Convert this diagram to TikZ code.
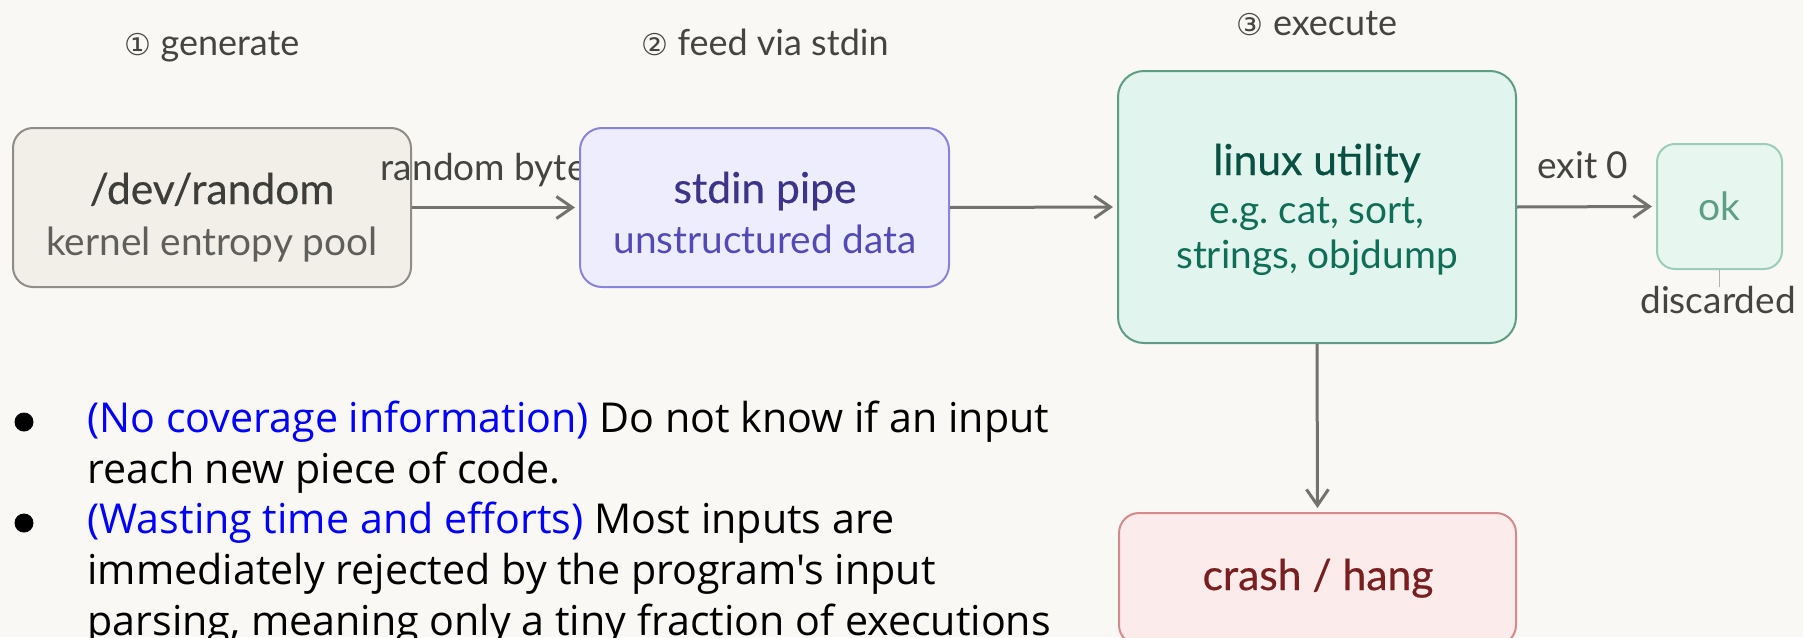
\documentclass[tikz,border=0pt]{standalone}
\usepackage{fontspec}
\setmainfont{Lato}
\newfontfamily\medfont{Lato}[FakeBold=0.5]
\newfontfamily\bodyfont{Open Sans}
\newfontfamily\symfont{DejaVu Sans}
\usetikzlibrary{arrows.meta}
\frenchspacing
\definecolor{bg}{HTML}{F9F8F5}
\definecolor{arrowc}{HTML}{73726C}
\definecolor{grayfill}{HTML}{F1EFE8}
\definecolor{grayline}{HTML}{8F8D86}
\definecolor{graytitle}{HTML}{3D3D3A}
\definecolor{graysub}{HTML}{5F5E5A}
\definecolor{purfill}{HTML}{EEEDFE}
\definecolor{purline}{HTML}{8A83DB}
\definecolor{purtitle}{HTML}{3C3489}
\definecolor{pursub}{HTML}{534AB7}
\definecolor{tealfill}{HTML}{E1F5EE}
\definecolor{tealline}{HTML}{5E9C86}
\definecolor{tealtitle}{HTML}{085041}
\definecolor{tealsub}{HTML}{0F6E56}
\definecolor{okfill}{HTML}{E8F6F0}
\definecolor{okline}{HTML}{9CCDBB}
\definecolor{oktext}{HTML}{5F9E86}
\definecolor{redfill}{HTML}{FCEBEB}
\definecolor{redline}{HTML}{D48A8A}
\definecolor{redtitle}{HTML}{791F1F}
\definecolor{labelc}{HTML}{444441}
\definecolor{thinc}{HTML}{B4B2A9}
\begin{document}
\begin{tikzpicture}[x=0.5pt,y=-0.5pt,
  box/.style={draw, line width=1pt, rounded corners=10pt, inner sep=0pt},
  flow/.style={draw=arrowc, line width=1.5pt, -{Straight Barb[length=8pt,width=11pt,line width=1.5pt]}, shorten >=2pt},
  txt/.style={anchor=base, inner sep=0pt},
  title/.style={txt, font=\medfont\fontsize{21.3}{24}\selectfont},
  sub/.style={txt, font=\fontsize{19.4}{22}\selectfont},
  lab/.style={txt, font=\fontsize{18.5}{22}\selectfont, text=labelc},
  steplab/.style={txt, font=\fontsize{18}{22}\selectfont, text=labelc},
  bline/.style={anchor=base west, inner sep=0pt, font=\bodyfont\fontsize{20.6}{25}\selectfont},
  dot/.style={circle, fill=black, minimum size=9.5pt, inner sep=0pt}
]
\fill[bg] (0,0) rectangle (1803,637);
\useasboundingbox (0,0) rectangle (1803,637);
\clip (0,0) rectangle (1803,637);

% step labels
\node[steplab] (s1) at (212,55) {{\symfont\fontsize{15}{18}\selectfont ①} generate};
\node[steplab] (s2) at (765,55) {{\symfont\fontsize{15}{18}\selectfont ②} feed via stdin};
\node[steplab] (s3) at (1317,35) {{\symfont\fontsize{15}{18}\selectfont ③} execute};

% boxes
\node[box, draw=grayline, fill=grayfill, minimum width=199pt, minimum height=79.5pt] (dev) at (212,207.5) {};
\node[lab, anchor=base east] (rb) at (587,180) {random byte};
\node[box, draw=purline, fill=purfill, rounded corners=11pt, minimum width=184.5pt, minimum height=79.5pt] (stdin) at (764.5,207.5) {};
\node[box, draw=tealline, fill=tealfill, rounded corners=13pt, minimum width=199pt, minimum height=136pt] (linux) at (1317,207) {};
\node[box, draw=okline, fill=okfill, rounded corners=9pt, minimum width=62.5pt, minimum height=62.5pt] (ok) at (1719.5,206.5) {};
\node[box, draw=redline, fill=redfill, minimum width=198.5pt, minimum height=66pt] (crash) at (1317.5,579) {};

% box texts
\node[title, text=graytitle] (devt) at (212,204) {/dev/random};
\node[sub, text=graysub] (devs) at (212,255) {kernel entropy pool};
\node[title, text=purtitle] (stdint) at (765,203) {stdin pipe};
\node[sub, text=pursub] (stdins) at (765,253) {unstructured data};
\node[title, text=tealtitle] (linuxt) at (1317,175) {linux utility};
\node[sub, text=tealsub] (linuxs1) at (1317,223) {e.g. cat, sort,};
\node[sub, text=tealsub] (linuxs2) at (1317,268) {strings, objdump};
\node[txt, text=oktext, font=\fontsize{19.5}{22}\selectfont] (okt) at (1719.5,220) {ok};
\node[title, text=redtitle] (crasht) at (1318,590) {crash / hang};
\node[lab] (exitl) at (1583,178) {exit 0};
\node[lab] (disc) at (1718,313) {discarded};

% connectors
\draw[flow] (dev.east) -- (stdin.west);
\draw[flow] (stdin.east) -- (linux.west);
\draw[flow] (linux.east) -- (ok.west);
\draw[flow] (linux.south) -- (crash.north);
\coordinate (discTop) at (1719.5,287);
\draw[thinc, line width=0.6pt] (ok.south) -- (discTop);

% bullets
\node[dot] (b1) at (24,422) {};
\node[dot] (b2) at (24,523) {};
\node[bline] (l1) at (87,432) {\textcolor{blue}{(No coverage information)} Do not know if an input};
\node[bline] (l2) at (87,483) {reach new piece of code.};
\node[bline] (l3) at (87,533) {\textcolor{blue}{(Wasting time and efforts)} Most inputs are};
\node[bline] (l4) at (87,584) {immediately rejected by the program's input};
\node[bline] (l5) at (87,635) {parsing, meaning only a tiny fraction of executions};
\end{tikzpicture}
\end{document}
